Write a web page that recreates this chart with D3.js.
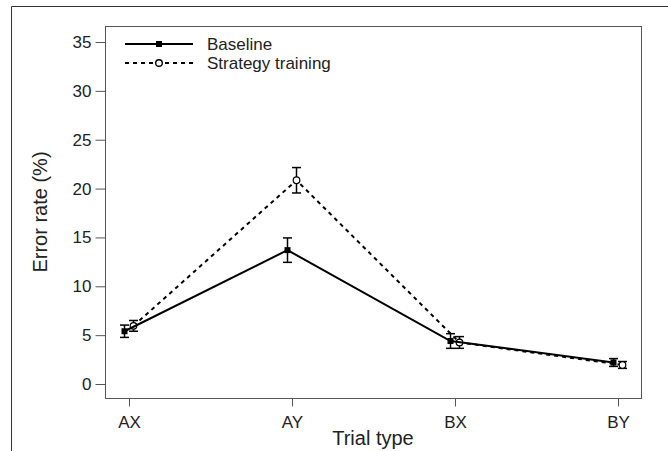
<!DOCTYPE html>
<html><head><meta charset="utf-8">
<script src="https://cdn.jsdelivr.net/npm/d3@7"></script>
<style>body{margin:0;background:#fff}svg{display:block;font-family:"Liberation Sans",Arial,sans-serif}</style>
</head><body>
<script>
const categories = ["AX","AY","BX","BY"];
const baseline = [5.4, 13.7, 4.4, 2.2];
const baselineErr = [0.63, 1.25, 0.75, 0.4];
const strategy = [5.95, 20.85, 4.25, 1.95];
const strategyErr = [0.55, 1.3, 0.6, 0.35];
const yTicks = [0,5,10,15,20,25,30,35];
const seriesNames = ["Baseline","Strategy training"];

const W=668,H=451;
const svg=d3.select("body").append("svg").attr("width",W).attr("height",H);
const box={l:105,r:641,t:26,b:398};
const x=d3.scalePoint().domain(categories).range([129,618]);
const y=d3.scaleLinear().domain([0,35]).range([384,42]);
const FF="Liberation Sans, Arial, sans-serif";

// outer frame
svg.append("path").attr("d",`M11.5,${H}V6.5H${W}`).attr("fill","none").attr("stroke","#333").attr("stroke-width",1);
// plot box
svg.append("rect").attr("x",box.l+0.5).attr("y",box.t+0.5).attr("width",box.r-box.l).attr("height",box.b-box.t)
  .attr("fill","none").attr("stroke","#555").attr("stroke-width",1);

// y axis
const ya=svg.append("g").attr("transform",`translate(${box.l+0.5},0)`)
  .call(d3.axisLeft(y).tickValues(yTicks).tickSize(10).tickPadding(4).tickFormat(d3.format("d")));
ya.select(".domain").remove();
ya.selectAll("line").attr("stroke","#555");
ya.selectAll("text").attr("font-size",17).attr("fill","#222").attr("font-family",FF);
// x axis
const xa=svg.append("g").attr("transform",`translate(0,${box.b+0.5})`)
  .call(d3.axisBottom(x).tickSize(8).tickPadding(9));
xa.select(".domain").remove();
xa.selectAll("line").attr("stroke","#555");
xa.selectAll("text").attr("font-size",17).attr("fill","#222").attr("font-family",FF);

svg.append("text").attr("x",(box.l+box.r)/2).attr("y",445).attr("text-anchor","middle").attr("font-size",20).attr("fill","#222").text("Trial type");
svg.append("text").attr("transform",`translate(47,${(box.t+box.b)/2}) rotate(-90)`).attr("text-anchor","middle").attr("font-size",20).attr("fill","#222").text("Error rate (%)");

const off=4.5;
function drawSeries(vals,errs,dx,dash,filled){
  const pts=categories.map((c,i)=>({x:x(c)+dx,v:vals[i],e:errs[i]}));
  svg.append("path").datum(pts).attr("fill","none").attr("stroke","#000").attr("stroke-width",2)
    .attr("stroke-dasharray",dash?"4,4":null)
    .attr("d",d3.line().x(d=>d.x).y(d=>y(d.v)));
  const g=svg.append("g").attr("stroke","#000").attr("stroke-width",1.5);
  pts.forEach(d=>{
    g.append("line").attr("x1",d.x).attr("x2",d.x).attr("y1",y(d.v-d.e)).attr("y2",y(d.v+d.e));
    g.append("line").attr("x1",d.x-4.5).attr("x2",d.x+4.5).attr("y1",y(d.v-d.e)).attr("y2",y(d.v-d.e));
    g.append("line").attr("x1",d.x-4.5).attr("x2",d.x+4.5).attr("y1",y(d.v+d.e)).attr("y2",y(d.v+d.e));
  });
  pts.forEach(d=>{
    if(filled) svg.append("rect").attr("x",d.x-3).attr("y",y(d.v)-3).attr("width",6).attr("height",6).attr("fill","#000");
    else svg.append("circle").attr("cx",d.x).attr("cy",y(d.v)).attr("r",3.3).attr("fill","#fff").attr("stroke","#000").attr("stroke-width",1.2);
  });
}
drawSeries(strategy,strategyErr,off,true,false);
drawSeries(baseline,baselineErr,-off,false,true);

// legend
const lg=svg.append("g");
[[44,false,true],[63,true,false]].forEach(([ly,dash,filled],i)=>{
  lg.append("line").attr("x1",125).attr("x2",193).attr("y1",ly).attr("y2",ly).attr("stroke","#000").attr("stroke-width",2).attr("stroke-dasharray",dash?"4,4":null);
  if(filled) lg.append("rect").attr("x",156).attr("y",ly-3).attr("width",6).attr("height",6).attr("fill","#000");
  else lg.append("circle").attr("cx",159).attr("cy",ly).attr("r",3.3).attr("fill","#fff").attr("stroke","#000").attr("stroke-width",1.4);
  lg.append("text").attr("x",207).attr("y",ly).attr("dy","0.35em").attr("font-size",17).attr("fill","#222").attr("font-family",FF).text(seriesNames[i]);
});
</script>
</body></html>
